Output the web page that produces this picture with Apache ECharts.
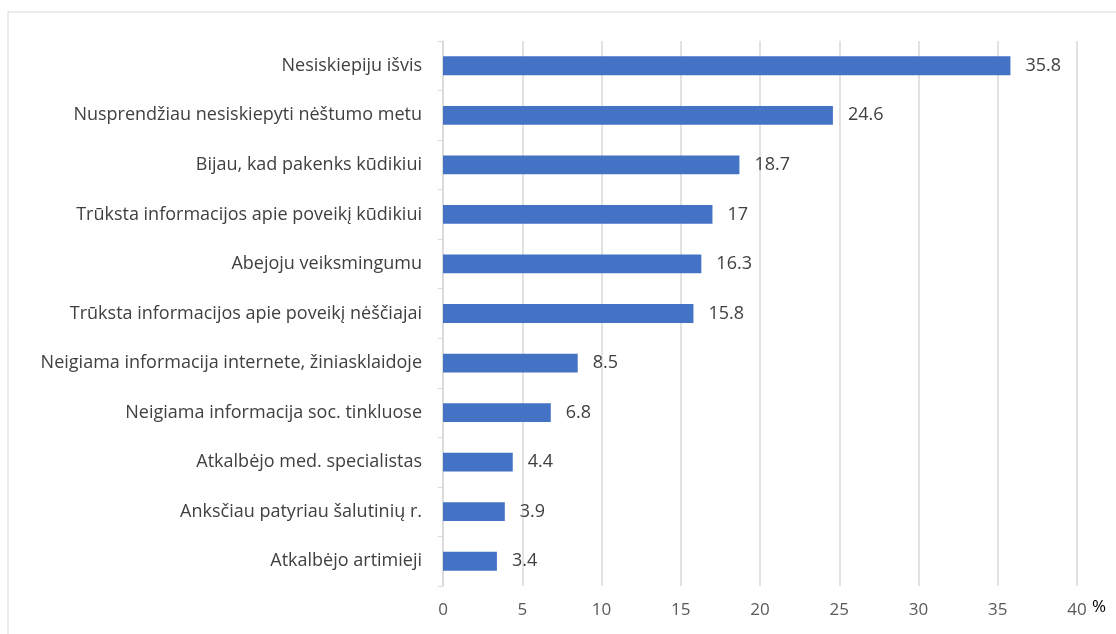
<!DOCTYPE html>
<html>
<head>
<meta charset="utf-8">
<script src="https://cdn.jsdelivr.net/npm/echarts@6/dist/echarts.min.js"></script>
<style>
  html, body { margin: 0; padding: 0; background: #fff; }
  #chart { width: 1116px; height: 634px; }
</style>
</head>
<body>
<div id="chart"></div>
<script>
// ======================
// DATA
// ======================
const categories = [
    'Nesiskiepiju išvis',
    'Nusprendžiau nesiskiepyti nėštumo metu',
    'Bijau, kad pakenks kūdikiui',
    'Trūksta informacijos apie poveikį kūdikiui',
    'Abejoju veiksmingumu',
    'Trūksta informacijos apie poveikį nėščiajai',
    'Neigiama informacija internete, žiniasklaidoje',
    'Neigiama informacija soc. tinkluose',
    'Atkalbėjo med. specialistas',
    'Anksčiau patyriau šalutinių r.',
    'Atkalbėjo artimieji'
];
const values = [35.8, 24.6, 18.7, 17, 16.3, 15.8, 8.5, 6.8, 4.4, 3.9, 3.4];
const xTicks = [0, 5, 10, 15, 20, 25, 30, 35, 40];
const unitLabel = '%';

const FONT = 'Open Sans';
const chart = echarts.init(document.getElementById('chart'));

chart.setOption({
    animation: false,
    textStyle: { fontFamily: FONT },
    graphic: [
        {
            type: 'rect',
            shape: { x: 8, y: 12, width: 1200, height: 700 },
            style: { fill: 'none', stroke: '#d9d9d9', lineWidth: 1 }
        },
        {
            type: 'text',
            left: 1092,
            top: 599,
            style: { text: unitLabel, fill: '#000', fontSize: 17, fontFamily: FONT }
        }
    ],
    grid: { left: 443, right: 39, top: 41, bottom: 48, containLabel: false },
    xAxis: {
        type: 'value',
        min: xTicks[0],
        max: xTicks[xTicks.length - 1],
        interval: 5,
        axisLine: { show: false },
        axisTick: { show: false },
        axisLabel: { color: '#595959', fontSize: 17, margin: 16 },
        splitLine: { lineStyle: { color: '#d9d9d9', width: 1.5 } }
    },
    yAxis: {
        type: 'category',
        inverse: true,
        data: categories,
        axisLine: { lineStyle: { color: '#d9d9d9', width: 1.5 } },
        axisTick: { show: true, length: 5, lineStyle: { color: '#d9d9d9' } },
        axisLabel: { color: '#404040', fontSize: 18, margin: 21 }
    },
    series: [{
        type: 'bar',
        data: values,
        barWidth: '38%',
        itemStyle: { color: '#4472c4' },
        label: {
            show: true,
            position: 'right',
            distance: 15,
            color: '#404040',
            fontSize: 18
        }
    }]
});
</script>
</body>
</html>
